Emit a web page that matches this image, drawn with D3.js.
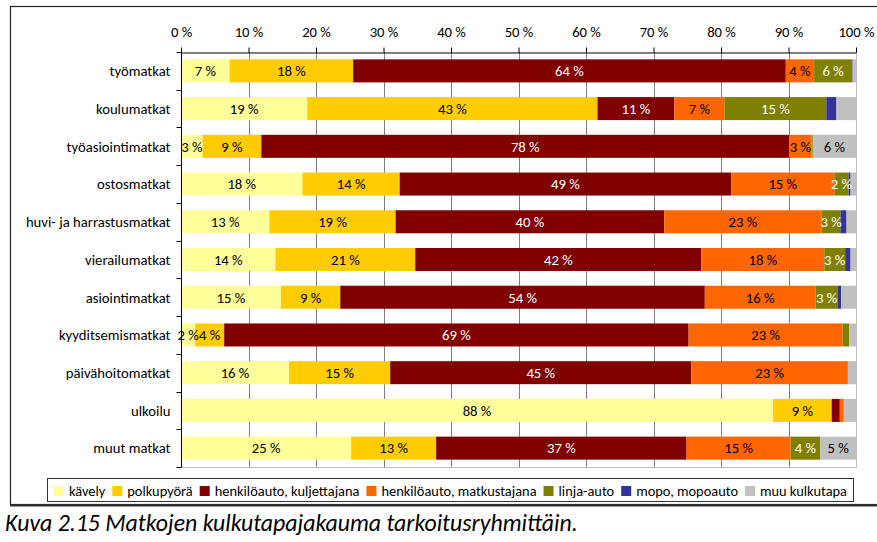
<!DOCTYPE html>
<html><head><meta charset="utf-8">
<script src="https://cdn.jsdelivr.net/npm/d3@7"></script>
<style>
html,body{margin:0;padding:0;background:#fff;}
svg{display:block;}
text{font-family:Carlito,Calibri,Lato,"Open Sans",sans-serif;}
</style></head>
<body>
<svg id="chart" width="877" height="542"></svg>
<script>
const categories = ["työmatkat","koulumatkat","työasiointimatkat","ostosmatkat","huvi- ja harrastusmatkat","vierailumatkat","asiointimatkat","kyyditsemismatkat","päivähoitomatkat","ulkoilu","muut matkat"];
const seriesNames = ["kävely","polkupyörä","henkilöauto, kuljettajana","henkilöauto, matkustajana","linja-auto","mopo, mopoauto","muu kulkutapa"];
const seriesColors = ["#FFFF99","#FFCC00","#800000","#FF6600","#808000","#333399","#C0C0C0"];
const labelColors = ["#000","#000","#fff","#000","#fff","#fff","#000"];
// values per series, in category order
const kavely      = [7.2, 18.7, 3.2, 18.0, 13.1, 14.0, 14.8, 2.1, 16.0, 87.7, 25.2];
const polkupyora  = [18.3, 43.0, 8.7, 14.4, 18.7, 20.7, 8.8, 4.3, 15.0, 8.7, 12.6];
const kuljettajana= [64.1, 11.4, 78.2, 49.1, 39.8, 42.4, 54.0, 68.8, 44.6, 1.2, 37.1];
const matkustajana= [4.2, 7.4, 3.3, 15.3, 23.3, 18.2, 16.4, 22.8, 23.2, 0.6, 15.4];
const linjaauto   = [5.6, 15.1, 0.2, 2.1, 2.8, 3.1, 3.3, 1.0, 0.0, 0.0, 4.4];
const mopo        = [0.1, 1.5, 0.0, 0.3, 0.9, 0.8, 0.5, 0.0, 0.0, 0.0, 0.0];
const muu         = [0.5, 2.9, 6.4, 0.8, 1.4, 0.8, 2.2, 1.0, 1.2, 1.8, 5.3];
const seriesValues = [kavely, polkupyora, kuljettajana, matkustajana, linjaauto, mopo, muu];
const xTicks = [0,10,20,30,40,50,60,70,80,90,100];
const caption = "Kuva 2.15 Matkojen kulkutapajakauma tarkoitusryhmittäin.";

const svg = d3.select("#chart");
svg.append("rect").attr("width",877).attr("height",542).attr("fill","#fff");

const fs = 14.7;      // 11pt
const legFs = 14.4;
const capFs = 23.8;

// outer frame
svg.append("rect").attr("x",10.5).attr("y",6.5).attr("width",880).attr("height",498)
  .attr("fill","none").attr("stroke","#222").attr("stroke-width",1.2);
svg.append("line").attr("x1",10).attr("x2",877).attr("y1",505.5).attr("y2",505.5)
  .attr("stroke","#333").attr("stroke-width",2);

const x = d3.scaleLinear().domain([0,100]).range([181,856]);
const y = d3.scaleBand().domain(categories).range([52,467]).paddingInner(0.39).paddingOuter(0.195);

// plot area border (right / bottom)
svg.append("line").attr("x1",x(100)+0.5).attr("x2",x(100)+0.5).attr("y1",52).attr("y2",467.5)
  .attr("stroke","#BFBFBF");
svg.append("line").attr("x1",x(0)).attr("x2",x(100)+1).attr("y1",467.5).attr("y2",467.5)
  .attr("stroke","#BFBFBF");

// gridlines
svg.append("g").selectAll("line").data(xTicks.filter(d=>d>0 && d<100)).join("line")
  .attr("x1",d=>Math.round(x(d))+0.5).attr("x2",d=>Math.round(x(d))+0.5)
  .attr("y1",52).attr("y2",467).attr("stroke","#7F7F7F").attr("stroke-width",1);

// stacked data
const stackData = categories.map((c,i)=>{
  const o = {cat:c};
  seriesNames.forEach((s,j)=>o[s]=seriesValues[j][i]);
  return o;
});
const stacked = d3.stack().keys(seriesNames)(stackData);

const gBars = svg.append("g");
stacked.forEach((layer,j)=>{
  gBars.append("g").attr("fill",seriesColors[j]).selectAll("rect").data(layer).join("rect")
    .attr("x",d=>x(d[0])).attr("width",d=>Math.max(0,x(d[1])-x(d[0])))
    .attr("y",d=>y(d.data.cat)).attr("height",y.bandwidth());
});

// labels
function showLabel(j,v){
  if (seriesNames[j]==="mopo, mopoauto") return false;
  if (seriesNames[j]==="muu kulkutapa") return v>=4;
  return v>=1.8;
}
const gLab = svg.append("g").attr("font-size",fs).attr("text-anchor","middle");
stacked.forEach((layer,j)=>{
  gLab.append("g").attr("fill",labelColors[j]).selectAll("text")
    .data(layer.filter(d=>showLabel(j,d[1]-d[0]))).join("text")
    .attr("x",d=>(x(d[0])+x(d[1]))/2)
    .attr("y",d=>y(d.data.cat)+y.bandwidth()/2)
    .attr("dy","0.36em")
    .text(d=>Math.round(d[1]-d[0])+" %");
});

// top axis
const axTop = svg.append("g").attr("transform","translate(0,52.5)")
  .call(d3.axisTop(x).tickValues(xTicks).tickFormat(d=>d+" %").tickSize(5).tickSizeOuter(0).tickPadding(11));
axTop.select(".domain").attr("stroke","#000");
axTop.selectAll(".tick line").attr("stroke","#000");
axTop.selectAll(".tick text").attr("font-size",fs).attr("fill","#000")
  .attr("font-family","Carlito,Calibri,Lato,'Open Sans',sans-serif");

// left axis line and ticks at band boundaries
const x0 = Math.round(x(0))+0.5;
svg.append("line").attr("x1",x0).attr("x2",x0).attr("y1",52).attr("y2",467.5).attr("stroke","#000");
const bounds = categories.map(c=>y(c)-y.step()*y.paddingInner()/2).concat([y.range()[1]]);
svg.append("g").selectAll("line").data(bounds).join("line")
  .attr("x1",x0-5).attr("x2",x0).attr("y1",d=>Math.round(d)+0.5).attr("y2",d=>Math.round(d)+0.5)
  .attr("stroke","#000");
svg.append("g").attr("font-size",fs).attr("text-anchor","end").selectAll("text")
  .data(categories).join("text")
  .attr("x",x0-11).attr("y",d=>y(d)+y.bandwidth()/2).attr("dy","0.36em").attr("fill","#000")
  .text(d=>d);

// legend
const leg = svg.append("g");
leg.append("rect").attr("x",47.5).attr("y",478.5).attr("width",806).attr("height",23)
  .attr("fill","#fff").attr("stroke","#333").attr("stroke-width",1);
const items = leg.selectAll("g.item").data(seriesNames).join("g").attr("class","item");
items.append("rect").attr("width",10).attr("height",10).attr("y",486)
  .attr("fill",(d,i)=>seriesColors[i]);
items.append("text").attr("x",15).attr("y",495.5).attr("font-size",legFs).attr("fill","#000").text(d=>d);
let widths = [];
items.each(function(){ widths.push(d3.select(this).select("text").node().getComputedTextLength()); });
const gap = 7;
const total = d3.sum(widths.map(w=>15+w)) + gap*(widths.length-1);
let cx = 47.5 + (806-total)/2;
items.each(function(d,i){ d3.select(this).attr("transform",`translate(${cx},0)`); cx += 15+widths[i]+gap; });

// caption
svg.append("text").attr("x",5).attr("y",531).attr("font-size",capFs).attr("font-style","italic")
  .attr("fill","#000").text(caption);
</script>
</body></html>
